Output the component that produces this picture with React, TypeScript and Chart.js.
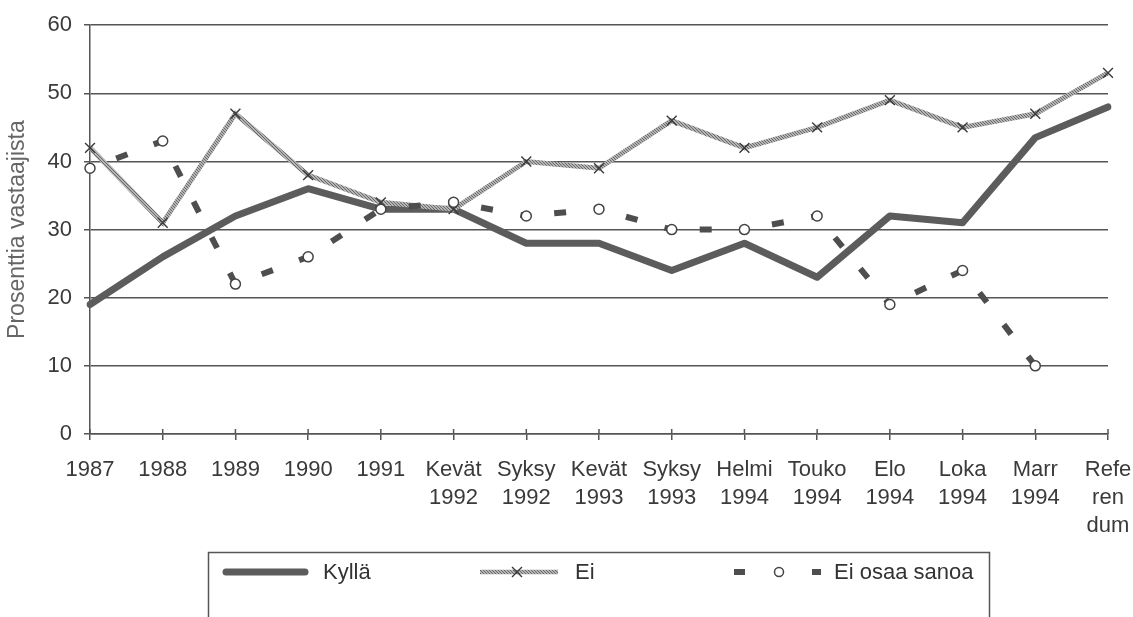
import React, { useEffect, useRef } from "react";
import { Chart, registerables } from "chart.js";

Chart.register(...registerables);

const categories: string[][] = [
  ["1987"], ["1988"], ["1989"], ["1990"], ["1991"],
  ["Kevät", "1992"], ["Syksy", "1992"], ["Kevät", "1993"], ["Syksy", "1993"],
  ["Helmi", "1994"], ["Touko", "1994"], ["Elo", "1994"], ["Loka", "1994"],
  ["Marr", "1994"], ["Refe", "ren", "dum"],
];
const kylla: number[] = [19, 26, 32, 36, 33, 33, 28, 28, 24, 28, 23, 32, 31, 43.5, 48];
const ei: number[] = [42, 31, 47, 38, 34, 33, 40, 39, 46, 42, 45, 49, 45, 47, 53];
const eiOsaa: (number | null)[] = [39, 43, 22, 26, 33, 34, 32, 33, 30, 30, 32, 19, 24, 10, null];
const seriesNames = ["Kyllä", "Ei", "Ei osaa sanoa"];
const yMin = 0;
const yMax = 60;
const yStep = 10;
const yTitle = "Prosenttia vastaajista";

const FONT = '"Liberation Sans", Arial, Helvetica, sans-serif';

function makeHatch(): CanvasPattern | string {
  const c = document.createElement("canvas");
  c.width = 3;
  c.height = 3;
  const g = c.getContext("2d");
  if (!g) return "#9a9a9a";
  g.fillStyle = "#b4b4b4";
  g.fillRect(0, 0, 3, 3);
  g.fillStyle = "#6a6a6a";
  g.fillRect(0, 0, 1, 1);
  g.fillRect(1, 1, 1, 1);
  g.fillRect(2, 2, 1, 1);
  const p = g.createPattern(c, "repeat");
  return p || "#9a9a9a";
}

export default function App() {
  const ref = useRef<HTMLCanvasElement | null>(null);

  useEffect(() => {
    if (!ref.current) return;
    const hatch = makeHatch();
    const kyllaColor = "#5c5c5c";
    const osaaColor = "#4e4e4e";

    const axisTickPlugin = {
      id: "crossTicks",
      afterDraw(chart: any) {
        const ctx = chart.ctx as CanvasRenderingContext2D;
        const xs = chart.scales.x;
        const bottom = chart.chartArea.bottom;
        ctx.save();
        ctx.strokeStyle = "#555";
        ctx.lineWidth = 1.5;
        ctx.beginPath();
        for (let i = 0; i < categories.length; i++) {
          const px = xs.getPixelForValue(i);
          ctx.moveTo(px, bottom - 5);
          ctx.lineTo(px, bottom);
        }
        ctx.stroke();
        ctx.restore();
      },
    };

    const legendPlugin = {
      id: "boxLegend",
      afterDraw(chart: any) {
        const ctx = chart.ctx as CanvasRenderingContext2D;
        ctx.save();
        ctx.strokeStyle = "#555";
        ctx.lineWidth = 1.5;
        ctx.strokeRect(208.5, 552.5, 781, 120);
        const y = 572;
        // Kyllä
        ctx.lineCap = "round";
        ctx.strokeStyle = kyllaColor;
        ctx.lineWidth = 7;
        ctx.beginPath();
        ctx.moveTo(226, y);
        ctx.lineTo(305, y);
        ctx.stroke();
        // Ei
        ctx.lineCap = "butt";
        ctx.strokeStyle = hatch as any;
        ctx.lineWidth = 4.5;
        ctx.beginPath();
        ctx.moveTo(480, y);
        ctx.lineTo(558, y);
        ctx.stroke();
        ctx.strokeStyle = "#3a3a3a";
        ctx.lineWidth = 1.4;
        ctx.beginPath();
        ctx.moveTo(512, y - 5);
        ctx.lineTo(522, y + 5);
        ctx.moveTo(522, y - 5);
        ctx.lineTo(512, y + 5);
        ctx.stroke();
        // Ei osaa sanoa
        ctx.fillStyle = osaaColor;
        ctx.fillRect(734, y - 3, 11, 6);
        ctx.fillRect(812, y - 3, 9, 6);
        ctx.beginPath();
        ctx.arc(779, y, 4.5, 0, Math.PI * 2);
        ctx.fillStyle = "#fff";
        ctx.fill();
        ctx.strokeStyle = "#444";
        ctx.lineWidth = 1.5;
        ctx.stroke();
        // texts
        ctx.fillStyle = "#333";
        ctx.font = `22px ${FONT}`;
        ctx.textBaseline = "middle";
        ctx.textAlign = "left";
        ctx.fillText(seriesNames[0], 323, y + 1);
        ctx.fillText(seriesNames[1], 575, y + 1);
        ctx.fillText(seriesNames[2], 834, y + 1);
        ctx.restore();
      },
    };

    const chart = new Chart(ref.current, {
      type: "line",
      data: {
        labels: categories,
        datasets: [
          {
            label: seriesNames[0],
            data: kylla,
            borderColor: kyllaColor,
            borderWidth: 7,
            borderJoinStyle: "round",
            borderCapStyle: "round",
            pointRadius: 0,
            tension: 0,
            order: 3,
          },
          {
            label: seriesNames[1],
            data: ei,
            borderColor: hatch as any,
            borderWidth: 5,
            pointStyle: "crossRot",
            pointRadius: 7,
            pointBorderColor: "#3a3a3a",
            pointBorderWidth: 1.4,
            pointBackgroundColor: "#3a3a3a",
            tension: 0,
            order: 2,
          },
          {
            label: seriesNames[2],
            data: eiOsaa,
            borderColor: osaaColor,
            borderWidth: 6,
            borderDash: [12, 28],
            borderCapStyle: "butt",
            segment: {
              borderDashOffset: (c: any) => 12 + c.p0DataIndex * 0.0001,
            },
            pointStyle: "circle",
            pointRadius: 5,
            pointBackgroundColor: "#ffffff",
            pointBorderColor: "#444",
            pointBorderWidth: 1.5,
            spanGaps: false,
            tension: 0,
            order: 1,
          } as any,
        ],
      },
      options: {
        animation: false,
        responsive: true,
        maintainAspectRatio: false,
        layout: { padding: { left: 0, top: 21, right: 25, bottom: 0 } },
        plugins: {
          legend: { display: false },
          tooltip: { enabled: false },
        },
        scales: {
          x: {
            type: "category",
            offset: false,
            afterFit: (s: any) => {
              s.height = 183;
              s.paddingLeft = 0;
              s.paddingRight = 0;
            },
            grid: {
              drawOnChartArea: false,
              color: "#555",
              lineWidth: 1.5,
              tickLength: 6,
            },
            border: { display: true, color: "#555", width: 1.5 },
            ticks: {
              autoSkip: false,
              maxRotation: 0,
              minRotation: 0,
              padding: 16,
              color: "#3a3a3a",
              font: { family: FONT, size: 22, lineHeight: 1.27 },
            },
          },
          y: {
            min: yMin,
            max: yMax,
            afterFit: (s: any) => {
              s.width = 90;
            },
            grid: {
              color: "#555",
              lineWidth: 1.5,
              tickLength: 6,
            },
            border: { display: true, color: "#555", width: 1.5 },
            ticks: {
              stepSize: yStep,
              padding: 12,
              color: "#3a3a3a",
              font: { family: FONT, size: 22 },
            },
            title: {
              display: true,
              text: yTitle,
              color: "#666",
              font: { family: FONT, size: 23 },
              padding: { top: 4, bottom: 0 },
            },
          },
        },
      },
      plugins: [legendPlugin, axisTickPlugin],
    });
    return () => chart.destroy();
  }, []);

  return (
    <div style={{ position: "fixed", left: 0, top: 0, width: 1133, height: 617, background: "#fff" }}>
      <canvas ref={ref} />
    </div>
  );
}
